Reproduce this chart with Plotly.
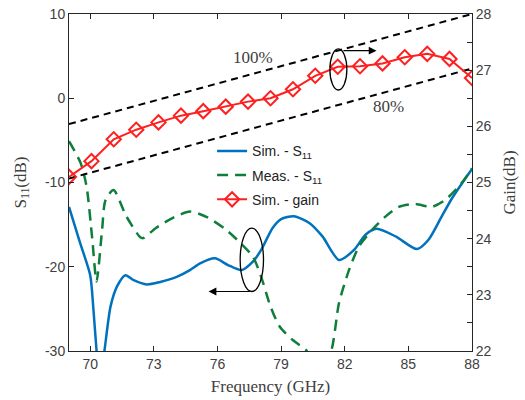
import plotly.graph_objects as go

# ---------------- data ----------------
sim_f = [69.0, 69.5, 70.0, 70.15, 70.3, 70.45, 70.67, 70.96, 71.27, 71.66, 72.05, 72.67, 73.3, 74.08,
         74.7, 75.18, 75.88, 76.5, 77.13, 77.67, 78.06, 78.6, 79.0, 79.6, 80.33, 80.95, 81.73,
         82.44, 82.98, 83.5, 84.4, 85.4, 85.95, 86.58, 87.05, 87.5, 88.0]
sim_s11 = [-12.9, -17.0, -21.0, -25.0, -30.0, -34.0, -30.0, -24.7, -22.3, -21.0, -21.6, -22.1, -21.8, -21.2,
           -20.4, -19.6, -19.0, -19.8, -20.4, -19.4, -18.0, -15.4, -14.35, -14.0, -14.8, -16.4, -19.2,
           -18.0, -16.2, -15.5, -16.4, -17.9, -16.8, -14.0, -11.9, -10.2, -8.4]

meas_f = [69.0, 69.55, 69.83, 70.1, 70.3, 70.56, 70.72, 71.1, 71.7, 72.36, 72.5, 73.1, 73.9,
          74.7, 75.5, 76.4, 77.05, 77.67, 78.06, 78.5, 78.93, 79.55, 80.18, 80.8, 81.36, 81.73,
          82.2, 82.67, 83.3, 83.92, 84.55, 85.33, 86.1, 86.74, 87.5, 88.0]
meas_s11 = [-5.1, -7.7, -10.5, -16.8, -21.75, -15.6, -12.1, -10.9, -14.0, -16.5, -16.6, -15.4, -14.2,
            -13.45, -14.1, -15.6, -17.1, -18.8, -21.2, -24.7, -27.1, -28.7, -29.9, -32.5, -30.0, -24.3,
            -20.4, -17.6, -15.6, -14.05, -12.9, -12.55, -12.9, -12.06, -10.1, -8.3]

gain_f = [69.00, 70.06, 71.11, 72.17, 73.22, 74.28, 75.33, 76.39, 77.44, 78.50,
          79.56, 80.61, 81.67, 82.72, 83.78, 84.83, 85.89, 86.94, 88.00]
gain = [25.10, 25.38, 25.77, 25.94, 26.07, 26.19, 26.27, 26.35, 26.44, 26.50,
        26.66, 26.90, 27.06, 27.07, 27.12, 27.23, 27.29, 27.20, 26.86]

ref_f = [69.0, 88.0]
ref100 = [26.04, 28.0]
ref80 = [25.07, 27.03]

x_ticks = [70, 73, 76, 79, 82, 85, 88]
y1_ticks = [-30, -20, -10, 0, 10]
y1_labels = ["-30", "-20", "-10", "0", "10"]
y2_ticks = [22, 23, 24, 25, 26, 27, 28]

# ---------------- style ----------------
SANS = "Liberation Sans, Arial, sans-serif"
SERIF = "Liberation Serif, Times New Roman, serif"
AX = "#262626"
TXT = "#404040"

fig = go.Figure()

fig.add_trace(go.Scatter(x=ref_f, y=ref100, yaxis="y2", mode="lines", showlegend=False,
                         line=dict(color="black", width=2, dash="7px,5px")))
fig.add_trace(go.Scatter(x=ref_f, y=ref80, yaxis="y2", mode="lines", showlegend=False,
                         line=dict(color="black", width=2, dash="7px,5px")))

fig.add_trace(go.Scatter(x=sim_f, y=sim_s11, mode="lines", name="Sim. - S<sub>11</sub>", legendgroup="a",
                         line=dict(color="#0072BD", width=2.5, shape="spline", smoothing=0.7)))
fig.add_trace(go.Scatter(x=meas_f, y=meas_s11, mode="lines", name="Meas. - S<sub>11</sub>", legendgroup="b",
                         line=dict(color="#0E7F3A", width=2.5, dash="11px,7px", shape="spline",
                                   smoothing=0.7)))
fig.add_trace(go.Scatter(x=gain_f, y=gain, yaxis="y2", mode="lines+markers", name="Sim. - gain",
                         legendgroup="c",
                         line=dict(color="#FF1F1F", width=2),
                         marker=dict(symbol="diamond-open", size=11, color="#FF1F1F",
                                     line=dict(width=2, color="#FF1F1F"))))

# ellipses and arrows
fig.add_shape(type="circle", xref="x", yref="y", x0=81.30, x1=82.10, y0=0.98, y1=5.85,
              line=dict(color="black", width=1.3))
fig.add_shape(type="circle", xref="x", yref="y", x0=77.07, x1=78.17, y0=-22.94, y1=-15.42,
              line=dict(color="black", width=1.3))
fig.add_annotation(x=83.5, y=5.65, ax=81.87, ay=5.65, xref="x", yref="y", axref="x", ayref="y",
                   showarrow=True, arrowhead=2, arrowsize=1.3, arrowwidth=1.2, arrowcolor="black", text="")
fig.add_annotation(x=75.58, y=-22.94, ax=77.62, ay=-22.94, xref="x", yref="y", axref="x", ayref="y",
                   showarrow=True, arrowhead=2, arrowsize=1.3, arrowwidth=1.2, arrowcolor="black", text="")

fig.add_annotation(x=77.68, y=4.78, xref="x", yref="y", text="100%", showarrow=False,
                   font=dict(family=SERIF, size=17, color=TXT))
fig.add_annotation(x=84.05, y=-1.0, xref="x", yref="y", text="80%", showarrow=False,
                   font=dict(family=SERIF, size=17, color=TXT))

fig.update_layout(
    width=525, height=400,
    margin=dict(l=68.5, r=52.7, t=14, b=49, autoexpand=False),
    paper_bgcolor="white", plot_bgcolor="white",
    font=dict(family=SANS, size=14, color=TXT),
    legend=dict(x=0.355, y=0.64, xanchor="left", yanchor="top", bgcolor="rgba(0,0,0,0)",
                font=dict(family=SANS, size=14, color="#222"), itemwidth=30,
                tracegroupgap=3),
    xaxis=dict(range=[69, 88], tickvals=x_ticks, ticks="inside", ticklen=5, tickcolor=AX,
               showline=True, linecolor=AX, linewidth=1, mirror="ticks", showgrid=False, zeroline=False,
               automargin=False, ticklabeloverflow="allow",
               title=dict(text="Frequency (GHz)", font=dict(family=SERIF, size=17, color=TXT), standoff=9),
               tickfont=dict(family=SANS, size=14, color=TXT)),
    yaxis=dict(range=[-30, 10], tickvals=y1_ticks, ticktext=y1_labels, ticks="inside", ticklen=5,
               tickcolor=AX, showline=True, linecolor=AX, linewidth=1, showgrid=False, zeroline=False,
               automargin=False, ticklabeloverflow="allow",
               title=dict(text="S<sub>11</sub>(dB)", font=dict(family=SERIF, size=17, color=TXT), standoff=14),
               tickfont=dict(family=SANS, size=14, color=TXT)),
    yaxis2=dict(range=[22, 28], tickvals=y2_ticks, overlaying="y", side="right", ticks="inside",
                ticklen=5, tickcolor=AX, showline=True, linecolor=AX, linewidth=1, showgrid=False,
                zeroline=False, automargin=False, ticklabeloverflow="allow",
                minor=dict(dtick=0.5, tick0=22, ticks="inside", ticklen=5, tickcolor=AX),
                title=dict(text="Gain(dB)", font=dict(family=SERIF, size=17, color=TXT), standoff=12),
                tickfont=dict(family=SANS, size=14, color=TXT)),
)

# remove the default 8px page margin so the 525x400 figure fills the window exactly
fig.write_html("out.html", config={"displayModeBar": False},
               post_script="document.body.style.margin='0';")
